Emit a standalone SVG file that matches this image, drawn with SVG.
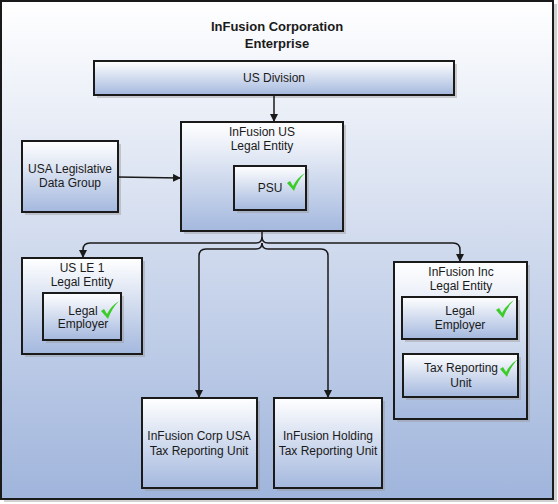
<svg xmlns="http://www.w3.org/2000/svg" width="558" height="504" viewBox="0 0 558 504">
<defs>
<linearGradient id="bg" x1="0" y1="0" x2="0" y2="1">
<stop offset="0" stop-color="#ffffff"/>
<stop offset="1" stop-color="#a0b5dc"/>
</linearGradient>
<linearGradient id="box" x1="0" y1="0" x2="0" y2="1">
<stop offset="0" stop-color="#ffffff"/>
<stop offset="1" stop-color="#a4b8de"/>
</linearGradient>
<marker id="arr" markerWidth="8" markerHeight="8" refX="7" refY="4" orient="auto" markerUnits="userSpaceOnUse">
<path d="M0,0 L8,4 L0,8 Z" fill="#1a1a1a"/>
</marker>
<path id="tick" d="M0,8 L3,6 L6,11 Q10,3 18,-2 Q11,5 7,16 Z" fill="#3ccc2a"/>
</defs>
<style>
.frame{fill:url(#bg);stroke:#1a1a1a;stroke-width:2}
.b{fill:url(#box);stroke:#1a1a1a;stroke-width:2}
.sh{fill:#9a9a9a;opacity:0.45}
text{font-family:"Liberation Sans",Arial,sans-serif;font-size:12px;fill:#1a1a1a;text-anchor:middle}
.title{font-weight:bold;font-size:13px}
.c{fill:none;stroke:#1a1a1a;stroke-width:1.5}
</style>
<g id="enterprise">
<rect x="4" y="4" width="553" height="498" class="sh"/>
<rect x="1" y="1" width="552" height="498" class="frame"/>
<text class="title" x="277" y="31">InFusion Corporation</text>
<text class="title" x="277" y="48">Enterprise</text>
</g>
<g id="us-division">
<rect x="97" y="64" width="360" height="34" class="sh"/>
<rect x="94" y="61" width="360" height="34" class="b"/>
<text x="274" y="82">US Division</text>
</g>
<g id="infusion-us">
<rect x="184" y="125" width="162" height="109" class="sh"/>
<rect x="181" y="122" width="162" height="109" class="b"/>
<text x="262" y="136">InFusion US</text>
<text x="262" y="150">Legal Entity</text>
</g>
<g id="psu">
<rect x="237" y="169" width="72" height="44" class="sh"/>
<rect x="234" y="166" width="72" height="44" class="b"/>
<text x="270" y="192">PSU</text>
<use href="#tick" x="287" y="175"/>
</g>
<g id="usa-ldg">
<rect x="25" y="144" width="96" height="71" class="sh"/>
<rect x="22" y="141" width="96" height="71" class="b"/>
<text x="70" y="173">USA Legislative</text>
<text x="70" y="187">Data Group</text>
</g>
<g id="us-le-1">
<rect x="25" y="261" width="120" height="96" class="sh"/>
<rect x="22" y="258" width="120" height="96" class="b"/>
<text x="82" y="272">US LE 1</text>
<text x="82" y="286">Legal Entity</text>
</g>
<g id="le1-legal-employer">
<rect x="46" y="296" width="78" height="47" class="sh"/>
<rect x="43" y="293" width="78" height="47" class="b"/>
<text x="83" y="315">Legal</text>
<text x="83" y="328">Employer</text>
<use href="#tick" x="101" y="303"/>
</g>
<g id="infusion-inc">
<rect x="397" y="265" width="133" height="157" class="sh"/>
<rect x="394" y="262" width="133" height="157" class="b"/>
<text x="461" y="276">InFusion Inc</text>
<text x="461" y="290">Legal Entity</text>
</g>
<g id="inc-legal-employer">
<rect x="405" y="300" width="115" height="42" class="sh"/>
<rect x="402" y="297" width="115" height="42" class="b"/>
<text x="460" y="315">Legal</text>
<text x="460" y="329">Employer</text>
<use href="#tick" x="496" y="302"/>
</g>
<g id="inc-tru">
<rect x="406" y="357" width="115" height="43" class="sh"/>
<rect x="403" y="354" width="115" height="43" class="b"/>
<text x="461" y="372">Tax Reporting</text>
<text x="461" y="387">Unit</text>
<use href="#tick" x="500" y="361"/>
</g>
<g id="corp-usa-tru">
<rect x="145" y="401" width="115" height="90" class="sh"/>
<rect x="142" y="398" width="115" height="90" class="b"/>
<text x="199" y="440">InFusion Corp USA</text>
<text x="199" y="455">Tax Reporting Unit</text>
</g>
<g id="holding-tru">
<rect x="277" y="401" width="108" height="90" class="sh"/>
<rect x="274" y="398" width="108" height="90" class="b"/>
<text x="328" y="440">InFusion Holding</text>
<text x="328" y="455">Tax Reporting Unit</text>
</g>
<g id="connectors">
<path class="c" d="M274,95 V121" marker-end="url(#arr)"/>
<path class="c" d="M118,177 L180,178" marker-end="url(#arr)"/>
<path class="c" d="M262,231 V237 Q262,243 256,243 H90 Q83,243 83,250 V257" marker-end="url(#arr)"/>
<path class="c" d="M262,237 Q262,243 268,243 H453 Q460,243 460,250 V261" marker-end="url(#arr)"/>
<path class="c" d="M262,243 Q262,249 256,249 H206 Q199,249 199,256 V397" marker-end="url(#arr)"/>
<path class="c" d="M262,243 Q262,249 268,249 H321 Q328,249 328,256 V397" marker-end="url(#arr)"/>
</g>
</svg>
